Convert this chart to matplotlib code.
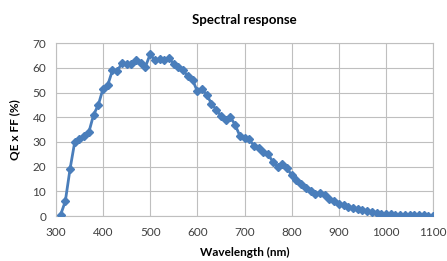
import matplotlib.pyplot as plt

wavelength = [310, 320, 330, 340, 350, 360, 370, 380, 390, 400,
              410, 420, 430, 440, 450, 460, 470, 480, 490, 500,
              510, 520, 530, 540, 550, 560, 570, 580, 590, 600,
              610, 620, 630, 640, 650, 660, 670, 680, 690, 700,
              710, 720, 730, 740, 750, 760, 770, 780, 790, 800,
              810, 820, 830, 840, 850, 860, 870, 880, 890, 900,
              910, 920, 930, 940, 950, 960, 970, 980, 990, 1000,
              1010, 1020, 1030, 1040, 1050, 1060, 1070, 1080, 1090, 1100]
qe_ff = [0.5, 6, 19, 30, 31, 32.5, 34, 41, 45, 51.5,
         53, 59, 58.5, 62, 61.5, 61.5, 63, 62, 60.5, 65.5,
         63, 63.5, 63, 64, 61.5, 60.5, 59, 56.5, 55, 50.5,
         51.5, 49, 45.5, 43, 40.5, 39, 40, 37, 32.5, 31.5,
         31, 28.5, 27.5, 26, 25, 22, 20, 21, 19.5, 16.5,
         14.5, 13, 11.5, 10, 9, 9.5, 8.5, 7, 6, 5,
         4.3, 3.8, 3.3, 2.8, 2.3, 1.9, 1.5, 1.2, 1.0, 0.8,
         0.7, 0.6, 0.5, 0.5, 0.4, 0.4, 0.3, 0.3, 0.2, 0.2]

x_ticks = [300, 400, 500, 600, 700, 800, 900, 1000, 1100]
y_ticks = [0, 10, 20, 30, 40, 50, 60, 70]

plt.rcParams['font.family'] = ['Lato', 'DejaVu Sans']

fig = plt.figure(figsize=(4.47, 2.61), dpi=100)
ax = fig.add_axes([0.125, 0.172, 0.844, 0.663])

ax.plot(wavelength, qe_ff, color='#4a7ebb', linewidth=2,
        marker='D', markersize=4.5, zorder=3)

ax.set_xlim(300, 1100)
ax.set_ylim(0, 70)
ax.set_xticks(x_ticks)
ax.set_yticks(y_ticks)
ax.grid(True, color='#bfbfbf', linewidth=0.8)
ax.set_axisbelow(True)
for s in ax.spines.values():
    s.set_color('#bfbfbf')
    s.set_linewidth(0.8)
ax.tick_params(length=0, labelsize=8.5, labelcolor='#404040')
ax.tick_params(axis='x', pad=8)
ax.tick_params(axis='y', pad=7)

ax.set_title('Spectral response', fontsize=9.5, fontweight='bold', pad=14)
ax.set_xlabel('Wavelength (nm)', fontsize=8.5, fontweight='bold', labelpad=6)
ax.set_ylabel('QE x FF (%)', fontsize=8.5, fontweight='bold', labelpad=9)

fig.savefig('out.png', dpi=100)
